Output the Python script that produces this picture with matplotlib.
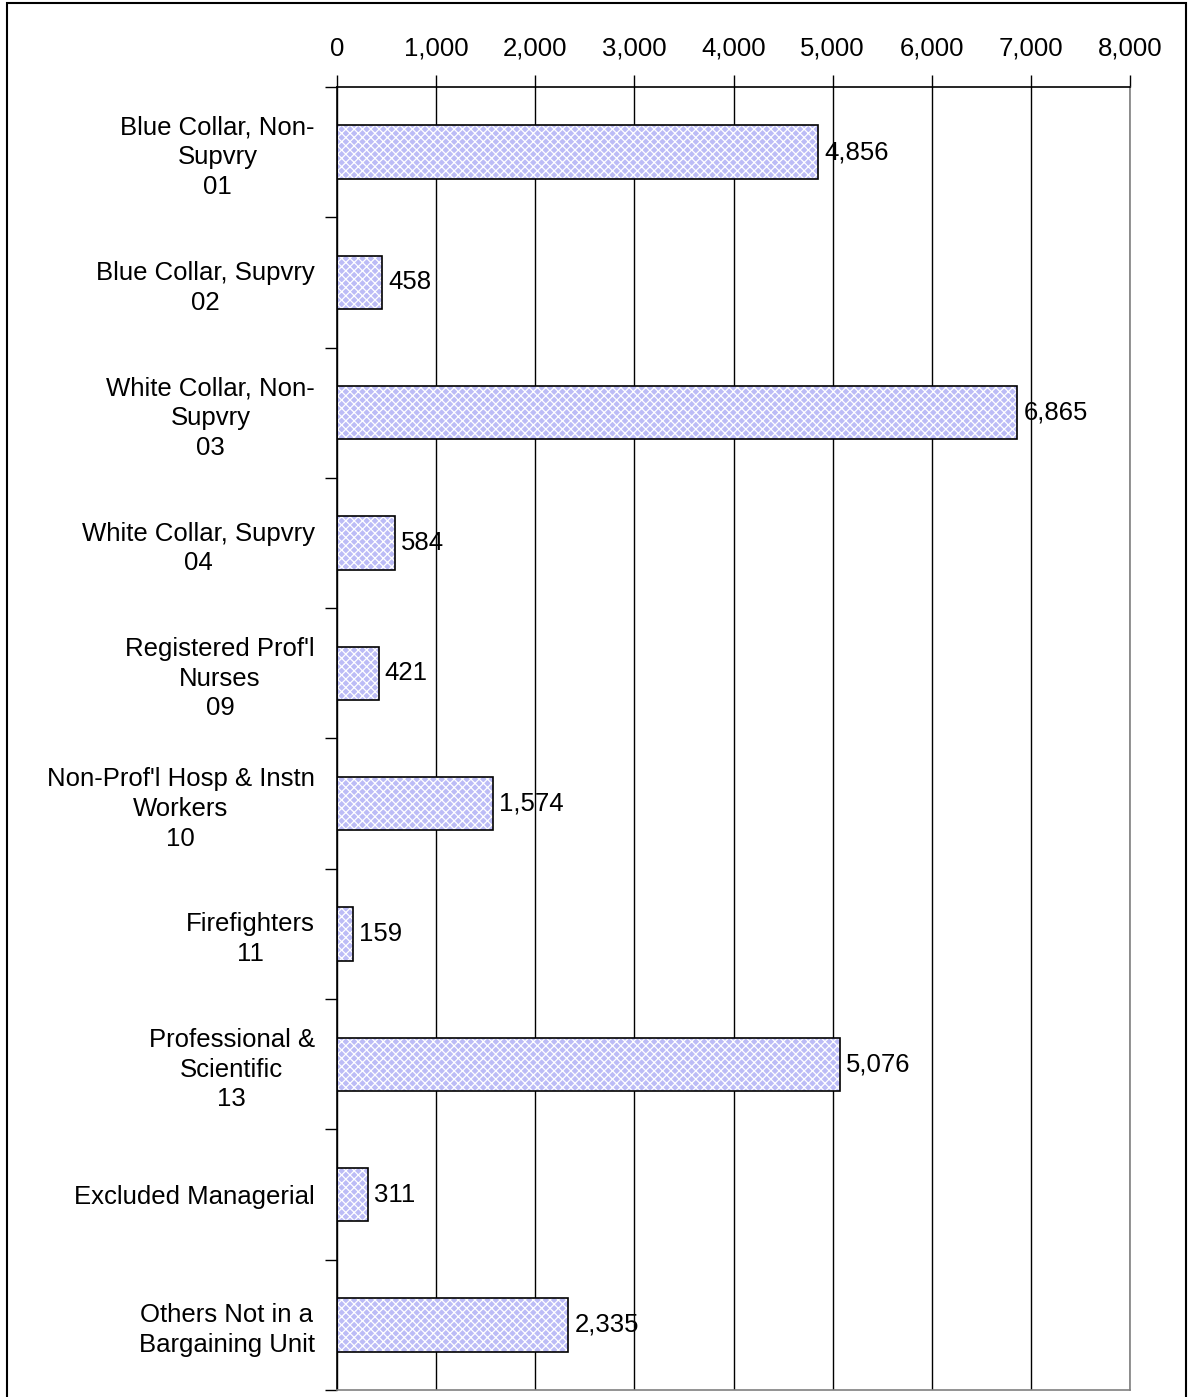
import matplotlib.pyplot as plt
from matplotlib.patches import Rectangle
from matplotlib.ticker import FuncFormatter, MultipleLocator
import numpy as np

plt.rcParams['font.family'] = ['Liberation Sans', 'DejaVu Sans']
plt.rcParams['hatch.linewidth'] = 0.9

# data
categories = ["Blue Collar, Non-\nSupvry\n01", "Blue Collar, Supvry\n02",
              "White Collar, Non-\nSupvry\n03", "White Collar, Supvry\n04",
              "Registered Prof'l\nNurses\n09", "Non-Prof'l Hosp & Instn\nWorkers\n10",
              "Firefighters\n11", "Professional &\nScientific\n13",
              "Excluded Managerial", "Others Not in a\nBargaining Unit"]
values = [4856, 458, 6865, 584, 421, 1574, 159, 5076, 311, 2335]

fs = 18.5

fig = plt.figure(figsize=(11.88, 13.97), dpi=100)
ax = fig.add_axes([337/1188, 1 - 1390/1397, (1130-337)/1188, (1390-87)/1397])

y = np.arange(len(categories))
ax.barh(y, values, height=0.41, color='#bcbcf6', edgecolor='white', hatch='xxxx', linewidth=0, zorder=2)
ax.barh(y, values, height=0.41, fill=False, edgecolor='black', linewidth=1.2, zorder=3)

for yi, v in zip(y, values):
    ax.text(v + 60, yi, f'{v:,}', va='center', ha='left', fontsize=fs, zorder=4)

ax.set_xlim(0, 8000)
ax.set_ylim(len(categories) - 0.5, -0.5)
ax.xaxis.set_major_locator(MultipleLocator(1000))
ax.xaxis.set_major_formatter(FuncFormatter(lambda v, p: f'{int(v):,}'))
ax.xaxis.tick_top()
ax.tick_params(axis='x', direction='out', length=9, width=1, pad=10, labelsize=fs, color='black')
ax.grid(axis='x', color='black', linewidth=1, zorder=0)

ax.set_yticks(y)
ax.set_yticklabels(categories, fontsize=fs, linespacing=1.3, multialignment='center')
ax.set_yticks(np.arange(len(categories) + 1) - 0.5, minor=True)
ax.tick_params(axis='y', which='major', length=0, pad=16)
ax.tick_params(axis='y', which='minor', length=9, width=1, color='black')

ax.spines['left'].set_color('black')
ax.spines['top'].set_color('black')
ax.spines['right'].set_color('#808080')
ax.spines['bottom'].set_color('#808080')
for s in ax.spines.values():
    s.set_linewidth(1.2)

# figure frame
fig.patches.append(Rectangle((7/1188, -0.01), (1186-7)/1188, 1.01 - 3/1397,
                             transform=fig.transFigure, fill=False, edgecolor='black', linewidth=1.5))

fig.savefig('out.png', dpi=100)
